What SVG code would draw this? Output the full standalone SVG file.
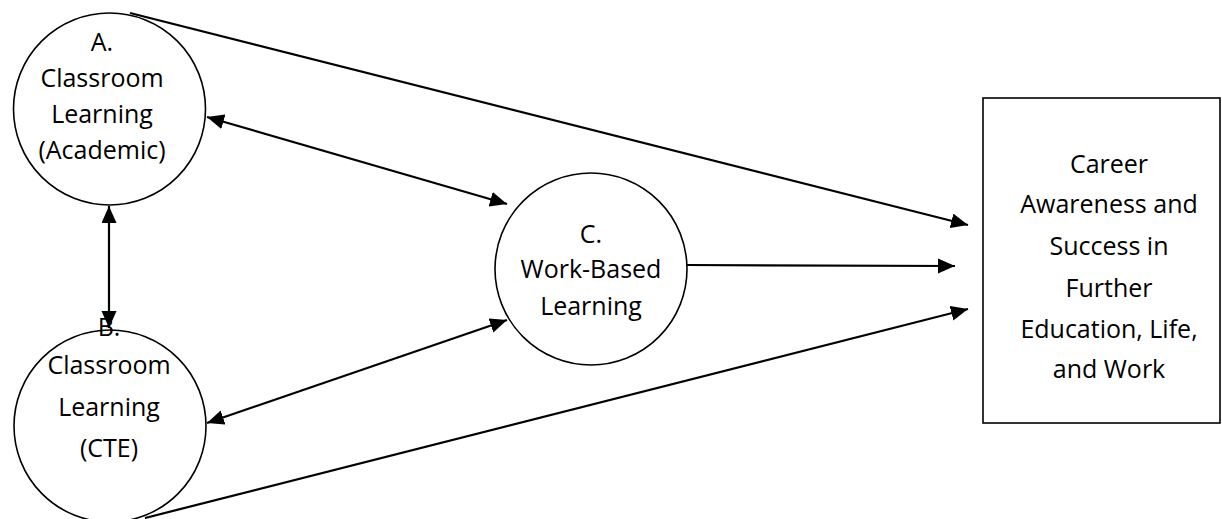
<svg xmlns="http://www.w3.org/2000/svg" width="1222" height="519" viewBox="0 0 1222 519">
<style>
.node{fill:none;stroke:#000;stroke-width:1.6}
.lbl{font-family:"Open Sans","Liberation Sans",sans-serif;font-size:25px;fill:#000;text-anchor:middle}
.conn line{stroke:#000;stroke-width:2.2}
</style>
<defs>
<marker id="ah" markerUnits="userSpaceOnUse" markerWidth="18" markerHeight="16" refX="17" refY="7.5" orient="auto-start-reverse" viewBox="0 0 18 16">
<path d="M0,0 L17,7.5 L0,15 z" fill="#000"/>
</marker>
</defs>
<rect width="1222" height="519" fill="#fff"/>
<g id="nodeA">
<circle class="node" cx="109.5" cy="109" r="96"/>
<text class="lbl" x="102" y="51">A.</text>
<text class="lbl" x="102" y="87">Classroom</text>
<text class="lbl" x="102" y="123">Learning</text>
<text class="lbl" x="102" y="159">(Academic)</text>
</g>
<g id="nodeB">
<circle class="node" cx="110" cy="426" r="96"/>
<text class="lbl" x="109" y="336">B.</text>
<text class="lbl" x="109" y="374">Classroom</text>
<text class="lbl" x="109" y="416">Learning</text>
<text class="lbl" x="109" y="457">(CTE)</text>
</g>
<g id="nodeC">
<circle class="node" cx="591" cy="269" r="96"/>
<text class="lbl" x="591" y="243">C.</text>
<text class="lbl" x="591" y="278">Work-Based</text>
<text class="lbl" x="591" y="315">Learning</text>
</g>
<g id="nodeD">
<rect class="node" x="983" y="98" width="237" height="325"/>
<text class="lbl" x="1109" y="173">Career</text>
<text class="lbl" x="1109" y="213">Awareness and</text>
<text class="lbl" x="1109" y="255">Success in</text>
<text class="lbl" x="1109" y="297">Further</text>
<text class="lbl" x="1109" y="338">Education, Life,</text>
<text class="lbl" x="1109" y="378">and Work</text>
</g>
<g id="connectors" class="conn">
<line x1="130" y1="13" x2="968" y2="225" marker-end="url(#ah)"/>
<line x1="687" y1="265" x2="955" y2="266" marker-end="url(#ah)"/>
<line x1="145" y1="518" x2="968" y2="309" marker-end="url(#ah)"/>
<line x1="207" y1="117" x2="507" y2="204" marker-start="url(#ah)" marker-end="url(#ah)"/>
<line x1="207" y1="423" x2="507" y2="320" marker-start="url(#ah)" marker-end="url(#ah)"/>
<line x1="109" y1="206" x2="109" y2="328" marker-start="url(#ah)" marker-end="url(#ah)"/>
</g>
</svg>
